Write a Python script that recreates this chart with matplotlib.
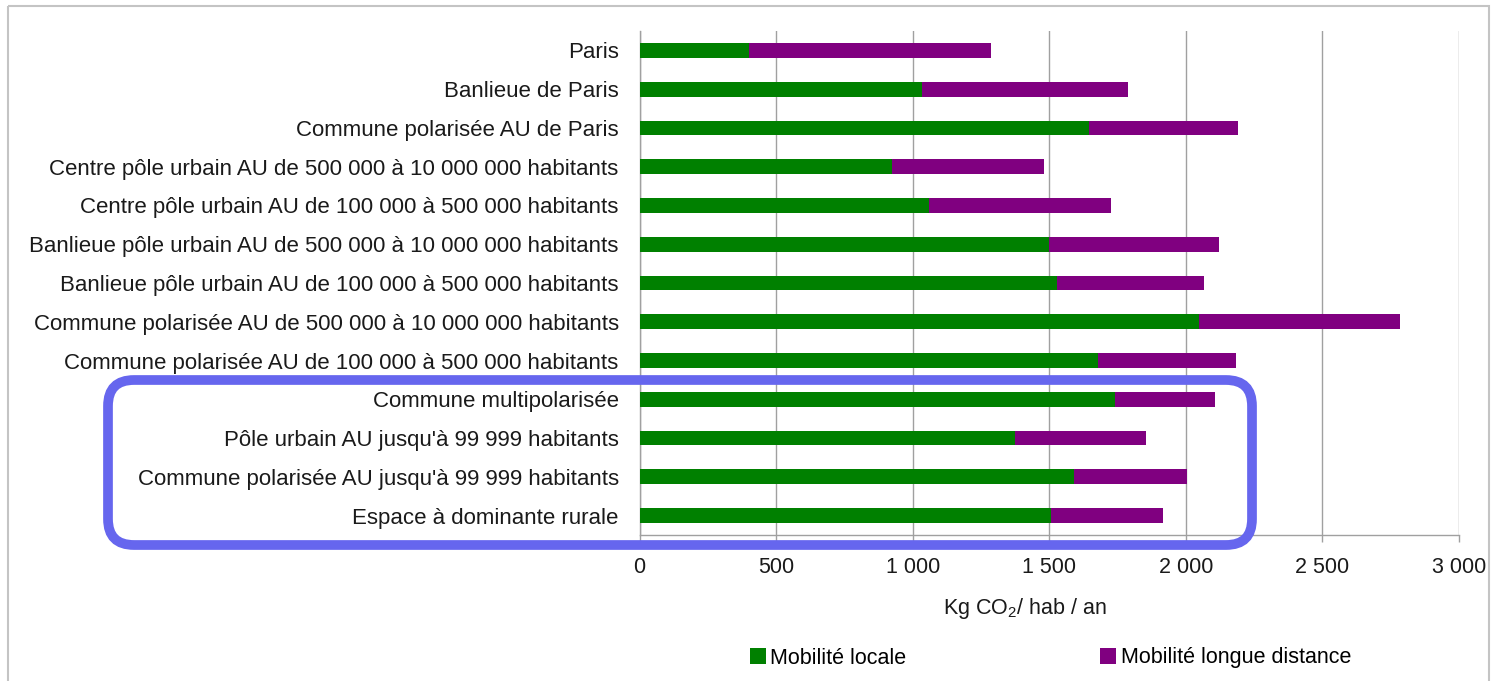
import matplotlib.pyplot as plt
from matplotlib.patches import FancyBboxPatch, Rectangle, Patch

plt.rcParams["font.family"] = ["Liberation Sans", "DejaVu Sans"]
plt.rcParams["mathtext.fontset"] = "custom"
plt.rcParams["mathtext.rm"] = "Liberation Sans"

CATEGORIES = [
    "Paris",
    "Banlieue de Paris",
    "Commune polarisée AU de Paris",
    "Centre pôle urbain AU de 500 000 à 10 000 000 habitants",
    "Centre pôle urbain AU de 100 000 à 500 000 habitants",
    "Banlieue pôle urbain AU de 500 000 à 10 000 000 habitants",
    "Banlieue pôle urbain AU de 100 000 à 500 000 habitants",
    "Commune polarisée AU de 500 000 à 10 000 000 habitants",
    "Commune polarisée AU de 100 000 à 500 000 habitants",
    "Commune multipolarisée",
    "Pôle urbain AU jusqu'à 99 999 habitants",
    "Commune polarisée AU jusqu'à 99 999 habitants",
    "Espace à dominante rurale",
]
MOBILITE_LOCALE = [400, 1035, 1645, 925, 1060, 1500, 1530, 2050, 1680, 1740, 1375, 1590, 1505]
MOBILITE_LONGUE = [885, 755, 545, 555, 665, 620, 535, 735, 505, 365, 480, 415, 410]
SERIES = ["Mobilité locale", "Mobilité longue distance"]
XTICKS = [0, 500, 1000, 1500, 2000, 2500, 3000]
XTICK_LABELS = ["0", "500", "1 000", "1 500", "2 000", "2 500", "3 000"]

GREEN = "#008000"
PURPLE = "#800080"
GRID = "#a0a0a0"
TXT = "#1a1a1a"
FS = 16

W, H = 1493, 681
fig = plt.figure(figsize=(W / 100, H / 100), dpi=100)
ax = fig.add_axes([639.5 / W, 1 - 535 / H, (1459 - 639.5) / W, (535 - 31) / H])

y = list(range(len(CATEGORIES)))
ax.barh(y, MOBILITE_LOCALE, height=0.38, color=GREEN, zorder=3)
ax.barh(y, MOBILITE_LONGUE, left=MOBILITE_LOCALE, height=0.38, color=PURPLE, zorder=3)

ax.set_ylim(len(CATEGORIES) - 0.5, -0.5)
ax.set_yticks(y)
ax.set_yticklabels(CATEGORIES, fontsize=FS, color=TXT)
ax.tick_params(axis="y", length=0, pad=15)

ax.set_xlim(0, 3000)
ax.set_xticks(XTICKS)
ax.set_xticklabels(XTICK_LABELS, fontsize=15.5, color=TXT)
ax.tick_params(axis="x", length=5, width=1, color=GRID, pad=11)
ax.grid(axis="x", color=GRID, linewidth=1, zorder=0)

for side in ["top", "right"]:
    ax.spines[side].set_visible(False)
for side in ["left", "bottom"]:
    ax.spines[side].set_color(GRID)
    ax.spines[side].set_linewidth(1)

ax.set_xlabel("Kg CO$_2$/ hab / an", fontsize=15.5, color=TXT, va="center")
ax.xaxis.set_label_coords(0.47, -0.145)

handles = [Patch(facecolor=GREEN), Patch(facecolor=PURPLE)]
fig.legend(handles, SERIES, loc="center left", bbox_to_anchor=(750 / W, 1 - 658 / H),
           ncol=2, frameon=False, fontsize=15.5, handlelength=0.75, handleheight=0.75,
           handletextpad=0.2, columnspacing=9.0, borderpad=0, borderaxespad=0)

# overlay in pixel units for the frame and the highlight box
ov = fig.add_axes([0, 0, 1, 1], zorder=5)
ov.set_xlim(0, W)
ov.set_ylim(H, 0)
ov.axis("off")
ov.add_patch(Rectangle((8, 6), 1481, 690, fill=False, edgecolor="#c4c4c4", linewidth=1.5))
ov.add_patch(FancyBboxPatch((108, 380), 1252 - 108, 545 - 380,
                            boxstyle="round,pad=0,rounding_size=26",
                            fill=False, edgecolor="#6666ee", linewidth=7))

fig.savefig("out.png", dpi=100)
